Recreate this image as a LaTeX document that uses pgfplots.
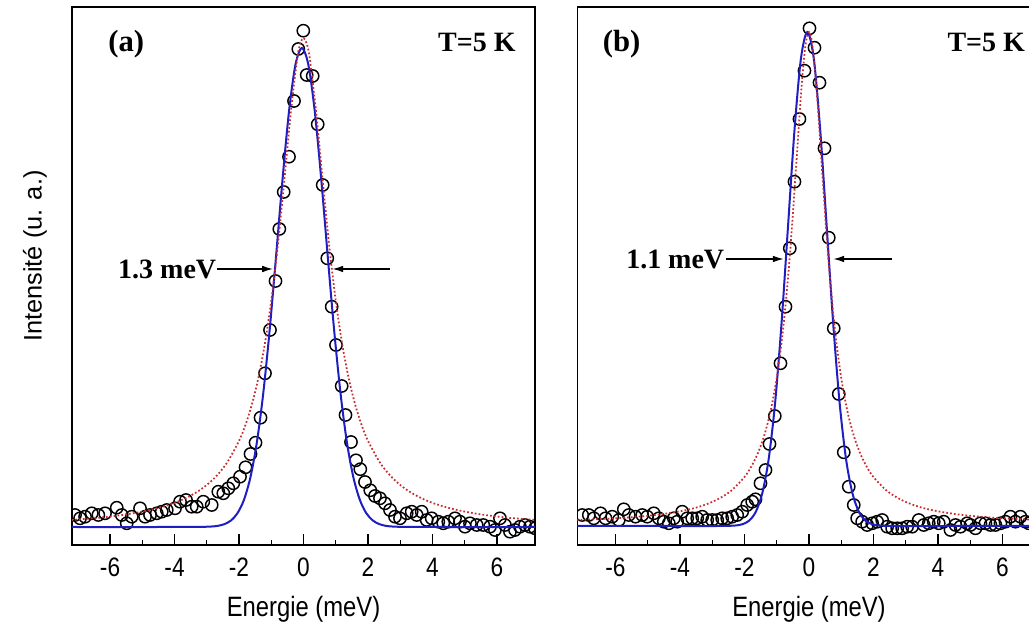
\documentclass[border=0pt]{standalone}
\usepackage{fontspec}
\setmainfont{Liberation Serif}
\newfontfamily\arial{Liberation Sans}
\newfontfamily\arialc[FakeStretch=0.85]{Liberation Sans}
\usepackage{pgfplots}
\pgfplotsset{compat=1.18}
\usepackage{pgfplotstable}
\usetikzlibrary{arrows.meta}
\definecolor{fitblue}{RGB}{30,30,195}
\definecolor{fitred}{RGB}{200,45,45}

% ---------- panel (a) ----------
\pgfplotstableread{
x y
-7.085 30
-6.930 26.7
-6.775 28.3
-6.567 31.7
-6.363 30
-6.155 31.7
-5.792 37.3
-5.637 30
-5.482 21.7
-5.327 28.3
-5.070 36.7
-4.915 28.3
-4.760 30
-4.552 31.7
-4.397 33.3
-4.242 35
-3.984 36.7
-3.829 43.3
-3.643 45
-3.467 38.3
-3.312 38.3
-3.107 43.3
-2.847 40
-2.642 53.3
-2.487 51.7
-2.332 56.7
-2.177 61.7
-1.969 68.3
-1.798 77.7
-1.643 91
-1.488 102.3
-1.333 127.3
-1.194 171.7
-1.039 215
-0.868 264
-0.750 316
-0.614 353
-0.450 388.3
-0.295 444
-0.161 496
-0.006 514.3
0.099 470
0.285 469
0.440 420.7
0.595 360
0.738 286.7
0.874 238.3
1.008 200
1.184 159
1.302 130
1.473 103
1.628 84.7
1.761 75.8
1.907 63
2.071 54.7
2.217 49
2.372 46.7
2.527 41.7
2.682 35
2.837 28.3
2.992 26.7
3.200 31.7
3.355 33.3
3.510 30
3.665 33.3
3.820 25
3.975 26.7
4.180 23.3
4.335 21.7
4.490 23.3
4.698 26.7
4.853 23.3
5.008 18.3
5.163 21.7
5.371 20
5.575 20
5.783 18.3
5.938 15
6.093 26.7
6.248 20
6.403 13.3
6.558 15
6.713 18.3
6.868 20
7.023 18.3
7.178 16.7
}\dataA

\pgfplotstableread{
x y
-7.2 18
-4.5 18
-3.25 18.1
-2.85 18.5
-2.65 19.2
-2.45 20.9
-2.25 24.5
-2.05 31.7
-1.85 44.9
-1.65 67.2
-1.45 101.9
-1.25 151.2
-1.05 214.9
-0.85 289.2
-0.65 365.8
-0.45 433.5
-0.25 480.3
-0.05 497
0.15 480.3
0.35 433.5
0.55 365.8
0.75 289.2
0.95 214.9
1.15 151.2
1.35 101.9
1.55 67.2
1.75 44.9
1.95 31.7
2.15 24.5
2.35 20.9
2.55 19.2
2.75 18.5
3.15 18.1
4.5 18
7.2 18
}\gaussA

\pgfplotstableread{
x y
-7.2 25
-6.5 26.8
-6.0 28.5
-5.5 30.6
-5.0 33.4
-4.5 37.1
-4.0 42.1
-3.6 47.7
-3.2 55.2
-2.8 65.7
-2.4 81
-2.0 104.1
-1.8 120.2
-1.6 140.7
-1.4 167
-1.2 200.9
-1.0 244.3
-0.8 298.6
-0.6 363
-0.4 430.5
-0.2 485.3
-0.1 501.4
0 507
0.1 501.4
0.2 485.3
0.4 430.5
0.6 363
0.8 298.6
1.0 244.3
1.2 200.9
1.4 167
1.6 140.7
1.8 120.2
2.0 104.1
2.4 81
2.8 65.7
3.2 55.2
3.6 47.7
4.0 42.1
4.5 37.1
5.0 33.4
5.5 30.6
6.0 28.5
6.5 26.8
7.2 25
}\lorA

% ---------- panel (b) ----------
\pgfplotstableread{
x y
-7.033 30
-6.828 30
-6.673 26.7
-6.465 31.7
-6.310 26.7
-6.102 28.3
-5.898 25
-5.743 35.7
-5.588 30
-5.380 28.3
-5.172 30
-5.017 28.3
-4.812 31.7
-4.657 26.7
-4.502 23.3
-4.347 21.7
-4.192 26.7
-4.087 23.3
-3.932 33.3
-3.777 26.7
-3.622 26.7
-3.467 26.7
-3.312 28.3
-3.157 25
-3.002 25
-2.847 25
-2.692 26.7
-2.536 26.7
-2.381 28.3
-2.226 30
-2.071 33.3
-1.916 40
-1.761 43.3
-1.659 45.7
-1.504 61.7
-1.349 75
-1.225 101
-1.060 129
-0.884 181.7
-0.729 238.3
-0.595 296.7
-0.450 363.3
-0.295 426
-0.140 474.3
0.016 516.7
0.171 497.3
0.326 462.3
0.481 396.7
0.614 307.3
0.769 216.7
0.924 151
1.079 92.7
1.234 58.3
1.389 40
1.494 26.7
1.650 23.3
1.804 20
1.960 21.7
2.115 23.3
2.270 25
2.425 18.3
2.580 16.7
2.735 16.7
2.890 16.7
3.045 18.3
3.200 18.3
3.405 25
3.560 20
3.715 21.7
3.870 23.3
4.025 21.7
4.180 23.3
4.388 15
4.543 20
4.698 18.3
4.905 21.7
5.008 20
5.163 16.7
5.318 21.7
5.473 21.7
5.628 20
5.783 20
5.938 21.7
6.093 23.3
6.248 28.3
6.403 23.3
6.558 28.3
6.713 23.3
6.816 21.7
}\dataB

\pgfplotstableread{
x y
-7.2 19
-4.5 19
-2.85 19.0
-2.45 19.2
-2.25 19.6
-2.05 20.9
-1.85 24.5
-1.65 33.1
-1.45 51.5
-1.25 85.8
-1.05 142.2
-0.85 222.1
-0.65 318.6
-0.45 414.5
-0.25 486.3
-0.05 513
0.15 486.3
0.35 414.5
0.55 318.6
0.75 222.1
0.95 142.2
1.15 85.8
1.35 51.5
1.55 33.1
1.75 24.5
1.95 20.9
2.15 19.6
2.35 19.2
2.75 19.0
4.5 19
7.2 19
}\gaussB

\pgfplotstableread{
x y
-7.2 25
-6.5 25.9
-6.0 26.7
-5.5 27.8
-5.0 29.2
-4.5 31.1
-4.0 33.7
-3.6 36.5
-3.2 40.5
-2.8 46.2
-2.4 54.6
-2.0 68
-1.8 77.8
-1.6 90.7
-1.4 108.2
-1.2 132.6
-1.0 167.1
-0.8 216.6
-0.6 286.6
-0.4 377.9
-0.3 426.6
-0.2 470.4
-0.1 501.6
0 513
0.1 501.6
0.2 470.4
0.3 426.6
0.4 377.9
0.6 286.6
0.8 216.6
1.0 167.1
1.2 132.6
1.4 108.2
1.6 90.7
1.8 77.8
2.0 68
2.4 54.6
2.8 46.2
3.2 40.5
3.6 36.5
4.0 33.7
4.5 31.1
5.0 29.2
5.5 27.8
6.0 26.7
6.5 25.9
7.2 25
}\lorB

\pgfplotsset{
  myax/.style={
    scale only axis,
    width=347.25pt, height=403.5pt,
    anchor=south west,
    xmin=-7.18, xmax=7.18, ymin=0, ymax=538,
    axis line style={line width=1.4pt},
    xtick={-6,-4,-2,0,2,4,6},
    xticklabels={-6,-4,-2,0,2,4,6},
    minor x tick num=1,
    ytick=\empty,
    xtick pos=left,
    tick align=inside,
    major tick length=8pt,
    minor tick length=4pt,
    tick style={black, line width=1pt},
    xticklabel style={font=\arialc\fontsize{20}{20}\selectfont, yshift=-6pt},
    xlabel={Energie (meV)},
    xlabel style={font=\arialc\fontsize{21}{21}\selectfont, yshift=-8pt},
    clip marker paths=true,
  },
  datast/.style={only marks, mark=o, mark size=4.6pt, mark options={black, line width=1.1pt}},
  bluest/.style={fitblue, line width=1.5pt, smooth, no markers},
  redst/.style={fitred, line width=1.3pt, dash pattern=on 1.3pt off 1.6pt, smooth, no markers},
}

\begin{document}
\begin{tikzpicture}
\begin{axis}[myax, at={(54pt,60pt)},
  ylabel={Intensité (u. a.)},
  ylabel style={font=\arial\fontsize{19}{19}\selectfont, at={(axis description cs:-0.08,0.537)}, anchor=center},
]
\addplot[datast] table[x=x,y=y] {\dataA};
\addplot[bluest] table[x=x,y=y] {\gaussA};
\addplot[redst] table[x=x,y=y] {\lorA};
\node[font=\bfseries\fontsize{23}{23}\selectfont, anchor=west, inner sep=0pt] at (axis cs:-6.06,501) {(a)};
\node[font=\bfseries\fontsize{21}{21}\selectfont, anchor=west, inner sep=0pt] at (axis cs:4.17,503) {T=5 K};
\node[font=\bfseries\fontsize{21}{21}\selectfont, anchor=east, inner sep=0pt] at (axis cs:-2.70,276) {1.3 meV};
\draw[line width=0.9pt, -{Latex[length=8pt,width=5pt]}] (axis cs:-2.68,276) -- (axis cs:-0.95,276);
\draw[line width=0.9pt, -{Latex[length=8pt,width=5pt]}] (axis cs:2.68,276) -- (axis cs:0.90,276);
\end{axis}
\begin{axis}[myax, at={(433.1pt,60pt)}]
\addplot[datast] table[x=x,y=y] {\dataB};
\addplot[bluest] table[x=x,y=y] {\gaussB};
\addplot[redst] table[x=x,y=y] {\lorB};
\node[font=\bfseries\fontsize{23}{23}\selectfont, anchor=west, inner sep=0pt] at (axis cs:-6.40,501) {(b)};
\node[font=\bfseries\fontsize{21}{21}\selectfont, anchor=west, inner sep=0pt] at (axis cs:4.29,503) {T=5 K};
\node[font=\bfseries\fontsize{21}{21}\selectfont, anchor=east, inner sep=0pt] at (axis cs:-2.62,286) {1.1 meV};
\draw[line width=0.9pt, -{Latex[length=8pt,width=5pt]}] (axis cs:-2.56,286) -- (axis cs:-0.79,286);
\draw[line width=0.9pt, -{Latex[length=8pt,width=5pt]}] (axis cs:2.59,286) -- (axis cs:0.76,286);
\end{axis}
\pgfresetboundingbox
\path[use as bounding box] (0,0) rectangle (771.75pt,468.75pt);
\end{tikzpicture}
\end{document}
